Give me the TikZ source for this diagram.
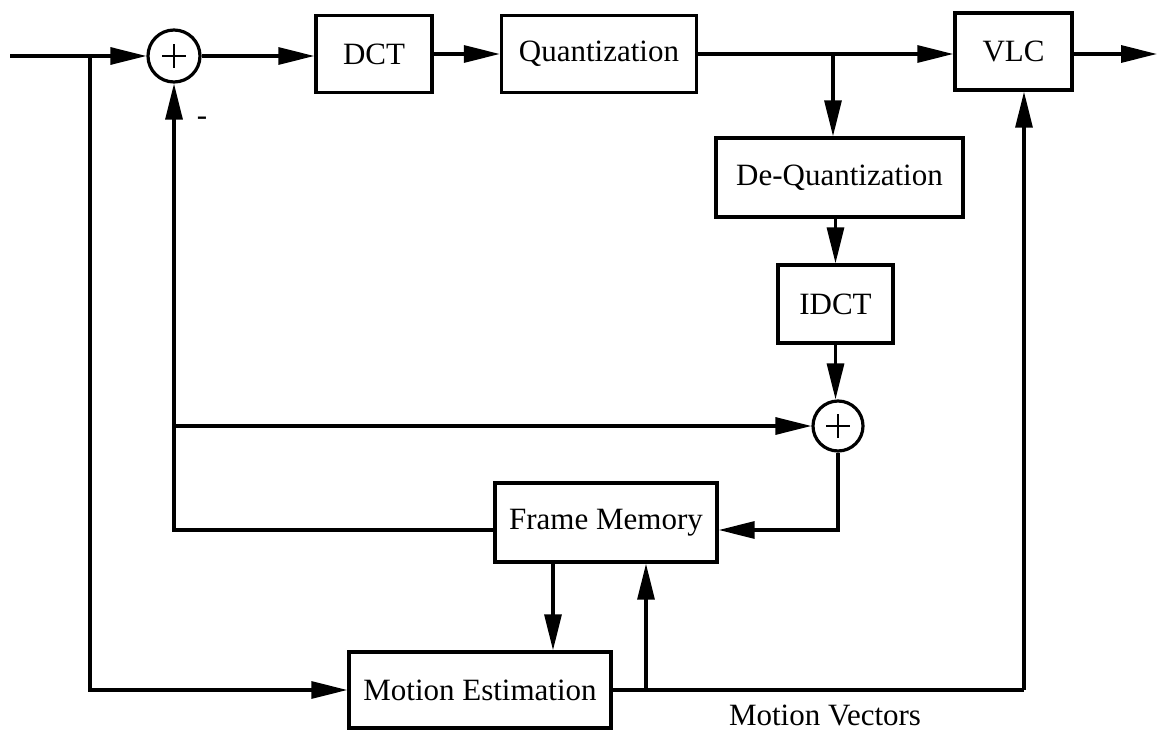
\documentclass[tikz,border=0pt]{standalone}
\usepackage{fontspec}
\setmainfont{Liberation Serif}
\usetikzlibrary{arrows.meta}

\tikzset{
  blk/.style={draw, line width=3.4pt, inner sep=0pt, font=\fontsize{31}{36}\selectfont},
  sumnode/.style={draw, circle, line width=3.2pt, inner sep=0pt,
    path picture={
      \draw[line width=2.6pt] ([xshift=-12pt]path picture bounding box.center) -- ([xshift=12pt]path picture bounding box.center);
      \draw[line width=2.6pt] ([yshift=-12pt]path picture bounding box.center) -- ([yshift=12pt]path picture bounding box.center);
    }},
  wire/.style={line width=3.2pt},
  arr/.style={wire, -{Triangle[length=36pt,width=17pt]}},
  lbl/.style={font=\fontsize{31}{36}\selectfont, inner sep=0pt}
}

\begin{document}
\begin{tikzpicture}[x=1pt,y=-1pt]
  \useasboundingbox (0,0) rectangle (1158,730);
  \fill[white] (0,0) rectangle (1158,730);

  % forward path
  \node[sumnode, minimum size=52pt] (s1) at (174,56) {};
  \node[blk, minimum width=116pt, minimum height=77pt] (dct) at (374,54) {DCT};
  \node[blk, minimum width=195pt, minimum height=77pt] (q) at (599,54) {Quantization};
  \node[blk, minimum width=117pt, minimum height=77pt] (vlc) at (1013.5,51.5) {VLC};

  % reconstruction loop
  \node[blk, minimum width=247pt, minimum height=79pt] (dq) at (839.5,177.5) {De-Quantization};
  \node[blk, minimum width=115pt, minimum height=78pt] (idct) at (835.5,304) {IDCT};
  \node[sumnode, minimum size=50pt] (s2) at (838,426) {};
  \node[blk, minimum width=222pt, minimum height=79pt] (fm) at (606,522.5) {Frame Memory};
  \node[blk, minimum width=262pt, minimum height=76pt] (me) at (480,690) {Motion Estimation};

  % labels
  \node[lbl] (mv) at (825,715) {Motion Vectors};
  \node[lbl] (minus) at (202,121) {-};

  % junction points
  \coordinate (in) at (10,56);
  \coordinate (b1) at (90,56);
  \coordinate (b2) at (833,55);
  \coordinate (fbL) at (174,530);
  \coordinate (b3) at (174,426);
  \coordinate (out) at (1157,54);
  \coordinate (b4) at (646,690);
  \coordinate (mvc) at (1024,690);

  % connectors
  \draw[arr] (in) -- (s1.west);
  \draw[arr] (b1) |- (me.west);
  \draw[arr] (s1.east) -- (dct.west |- s1.east);
  \draw[arr] (dct.east) -- (q.west |- dct.east);
  \draw[arr] (q.east) -- (vlc.west |- q.east);
  \draw[arr] (vlc.east |- q.east) -- (out);
  \draw[arr] (b2) -- (b2 |- dq.north);
  \draw[arr] (idct.north |- dq.south) -- (idct.north);
  \draw[arr] (idct.south) -- (idct.south |- s2.north);
  \draw[arr] (b3) -- (s2.west);
  \draw[arr] (fm.west |- fbL) -- (fbL) -- (s1.south);
  \draw[arr] (s2.south) |- (fm.east |- fbL);
  \draw[arr] ([xshift=-53pt]fm.south) -- ([xshift=-53pt]fm.south |- me.north);
  \draw[wire] (me.east |- b4) -- (mvc);
  \draw[arr] (b4) -- (b4 |- fm.south);
  \draw[arr] (mvc) -- (mvc |- vlc.south);
\end{tikzpicture}
\end{document}
